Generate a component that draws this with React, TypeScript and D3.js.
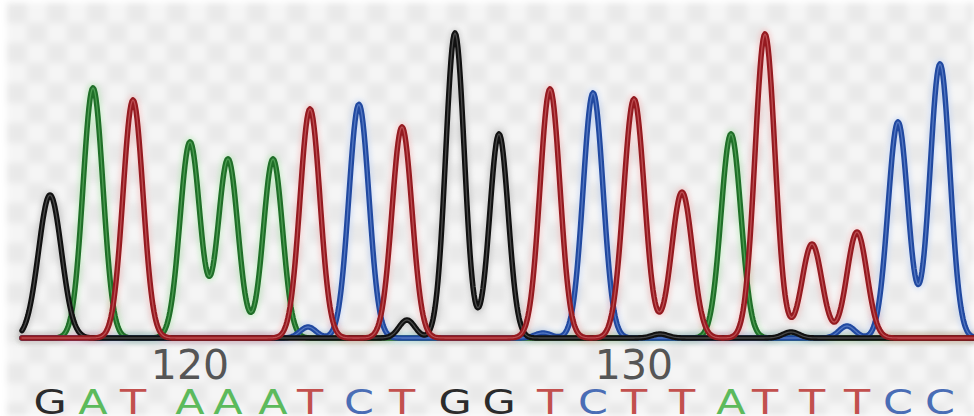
import React from 'react';
import * as d3 from 'd3';

const width = 974;
const height = 416;
const margin = { left: 22, right: 0, baseline: 338, top: 28 };

// called bases, one per peak
const bases = ['G', 'A', 'T', 'A', 'A', 'A', 'T', 'C', 'T', 'G', 'G', 'T', 'C', 'T', 'T', 'A', 'T', 'T', 'T', 'C', 'C'];
const firstBaseNumber = 117;
const tickBases = [120, 130];

// main peaks: scan position, signal, width
const peakScan = [28, 71, 111, 168, 206, 251, 288, 337, 380, 433, 477, 528, 571, 612, 660, 709, 743, 790, 835, 876, 918];
const peakSignal = [143, 250, 238, 196, 179, 179, 229, 232, 211, 305, 204, 249, 243, 239, 146, 204, 304, 94, 106, 216, 274];
const peakSigma = [11.5, 10, 10, 10, 10, 9.6, 10, 10, 10, 9.3, 9.3, 10, 10, 10.4, 10.4, 10, 10, 10, 10, 10, 10];

// small background peaks
const minorChannel = ['C', 'C', 'G', 'C', 'C', 'G', 'G', 'C'];
const minorScan = [286, 328, 385, 521, 578, 638, 769, 825];
const minorSignal = [11, 3, 18, 5, 3, 4, 6, 12];

const scanMax = 952;
const signalMax = 310;

const channels = ['A', 'C', 'G', 'T'];
const lineColor = { G: '#111111', A: '#1f6f28', C: '#2149a0', T: '#951a20' };
const glowColor = { G: '#9a9a9a', A: '#8fe08f', C: '#9dbcf5', T: '#f59a9a' };
const textColor = { G: '#2b2b2b', A: '#5cba5c', C: '#4a6db5', T: '#c2504e' };

const xScale = d3.scaleLinear().domain([0, scanMax]).range([margin.left, width - margin.right]);
const yScale = d3.scaleLinear().domain([0, signalMax]).range([margin.baseline, margin.top]);

function traceFor(ch) {
  const scans = d3.range(0, scanMax + 0.5, 1);
  return scans.map(s => {
    let v = 0;
    bases.forEach((b, i) => {
      if (b !== ch) return;
      const d = s - peakScan[i];
      v += peakSignal[i] * Math.exp(-(d * d) / (2 * peakSigma[i] * peakSigma[i]));
    });
    minorChannel.forEach((b, i) => {
      if (b !== ch) return;
      const d = s - minorScan[i];
      v += minorSignal[i] * Math.exp(-(d * d) / (2 * 8 * 8));
    });
    return [s, v];
  });
}

const line = d3.line().x(d => xScale(d[0])).y(d => yScale(d[1]));

export default function App() {
  const traces = React.useMemo(() => channels.map(ch => ({ ch, path: line(traceFor(ch)) })), []);

  return (
    <svg width={width} height={height} style={{ position: 'absolute', left: 0, top: 0, background: '#fff' }}>
      <defs>
        <pattern id="checker" width="40" height="40" patternUnits="userSpaceOnUse" x="7" y="3">
          <rect width="40" height="40" fill="#f5f5f5" />
          <rect width="20" height="20" fill="#e9e9e9" />
          <rect x="20" y="20" width="20" height="20" fill="#e9e9e9" />
        </pattern>
        <filter id="soft" x="-5%" y="-5%" width="110%" height="110%">
          <feGaussianBlur stdDeviation="3" />
        </filter>
        <filter id="glow" x="-5%" y="-5%" width="110%" height="110%">
          <feGaussianBlur stdDeviation="2.5" />
        </filter>
      </defs>
      <rect width={width} height={height} fill="#fff" />
      <rect x={7} y={3} width={width - 7} height={height - 3} fill="url(#checker)" filter="url(#soft)" />

      <line x1={xScale(0)} x2={xScale(scanMax)} y1={yScale(0) + 1.5} y2={yScale(0) + 1.5} stroke="#c46a6a" strokeWidth={2} />

      <g fill="none" strokeLinejoin="round" strokeLinecap="round">
        {traces.map(t => (
          <path key={'g' + t.ch} d={t.path} stroke={glowColor[t.ch]} strokeWidth={10} opacity={0.35} filter="url(#glow)" />
        ))}
        {traces.map(t => (
          <g key={t.ch}>
            <path d={t.path} stroke={lineColor[t.ch]} strokeWidth={5.5} />
            <path d={t.path} stroke={glowColor[t.ch]} strokeWidth={1.3} opacity={0.4} />
          </g>
        ))}
      </g>

      <g fontFamily="DejaVu Sans, Verdana, sans-serif" textAnchor="middle">
        {tickBases.map(n => (
          <text key={n} x={xScale(peakScan[n - firstBaseNumber])} y={379} fontSize={41} fill="#555">{n}</text>
        ))}
        {bases.map((b, i) => (
          <text key={i} transform={`translate(${xScale(peakScan[i])},414) scale(1.3,1)`} fontSize={33} fill={textColor[b]}>{b}</text>
        ))}
      </g>
    </svg>
  );
}
